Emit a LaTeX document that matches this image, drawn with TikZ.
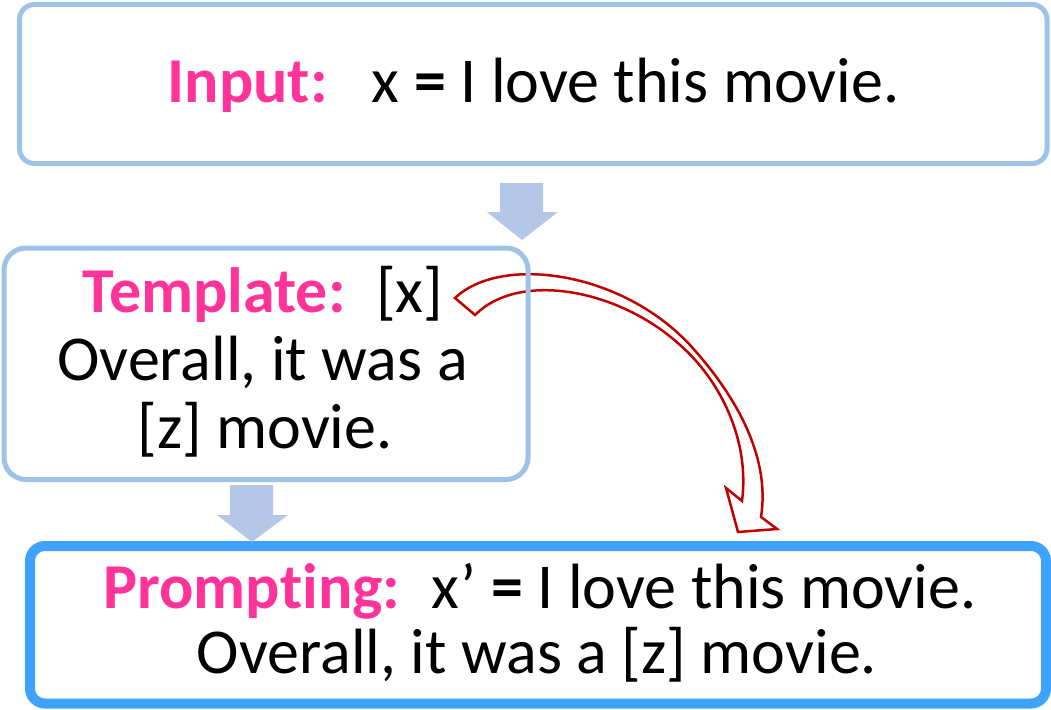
\documentclass[tikz,border=0pt]{standalone}
\usepackage{fontspec}
\setmainfont{Carlito}[Ligatures={NoCommon,NoContextual}]
\definecolor{boxblue}{HTML}{9DC3E6}
\definecolor{promptblue}{HTML}{3FA2FF}
\definecolor{arrowblue}{HTML}{B4C7E7}
\definecolor{labelpink}{HTML}{FF3399}
\definecolor{darkred}{HTML}{C00000}
\tikzset{
  box/.style={draw=boxblue, line width=5pt, rectangle, inner sep=0pt, outer sep=0pt},
  promptbox/.style={draw=promptblue, line width=10pt, rectangle, rounded corners=15pt, inner sep=0pt, outer sep=0pt},
  line/.style={anchor=base, inner sep=0pt, font=\fontsize{64}{68}\selectfont},
  blockarrow/.style={fill=arrowblue, draw=none},
  curvedarrow/.style={draw=darkred, fill=white, line width=2.5pt, line join=miter},
}
\newcommand{\lab}[1]{{\color{labelpink}\bfseries #1}}
\begin{document}
\begin{tikzpicture}[x=1pt, y=-1pt]
\useasboundingbox (0,0) rectangle (1051,709);

% curved red arrow (behind box borders)
\draw[curvedarrow] (455,298) .. controls (500,255) and (620,270) .. (690,345)
  .. controls (740,400) and (770,460) .. (761,517)
  -- (777,529) -- (738,532) -- (726,488) -- (742,501)
  .. controls (750,440) and (720,380) .. (680,345)
  .. controls (620,290) and (520,270) .. (475,315) -- cycle;

% boxes
\node[box, rounded corners=15pt, minimum width=1027.5pt, minimum height=159pt] (input) at (533.25,84) {};
\node[box, rounded corners=22pt, minimum width=524pt, minimum height=231.5pt] (template) at (266,363.75) {};
\node[promptbox, minimum width=1016pt, minimum height=157.5pt] (prompt) at (538,624.75) {};

% block arrows
\fill[blockarrow] (500,183) -- (543,183) -- (543,212) -- (558,212) -- (522,240) -- (487,212) -- (500,212) -- cycle;
\fill[blockarrow] (230,485) -- (273,485) -- (273,515) -- (288,515) -- (252,542) -- (217,515) -- (230,515) -- cycle;

% texts
\node[line] (inputtext) at (533.5,102) {\lab{Input:}\hspace{25pt} x \textbf{=} I love this movie.};
\node[line] (t1) at (263,312) {\lab{Template:}\hspace{11pt} [x]};
\node[line] (t2) at (262.5,380) {Overall, it was a};
\node[line] (t3) at (265,448) {[z] movie.};
\node[line] (p1) at (540,608) {\lab{Prompting:}\hspace{12pt} x’ \textbf{=} I love this movie.};
\node[line] (p2) at (537,673) {Overall, it was a [z] movie.};
\end{tikzpicture}
\end{document}
